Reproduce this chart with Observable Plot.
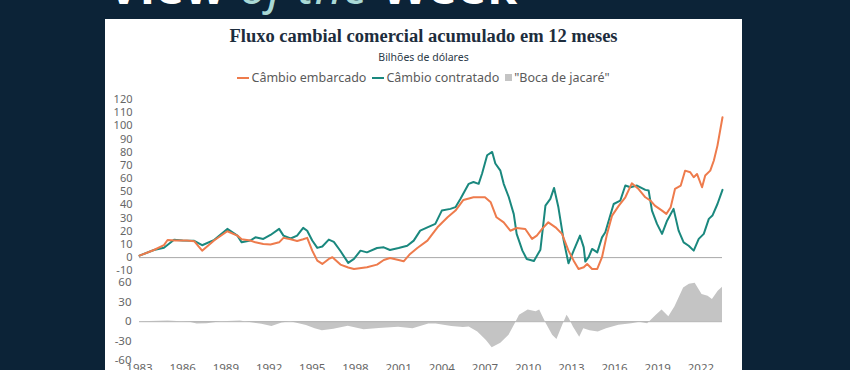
<!DOCTYPE html>
<html>
<head>
<meta charset="utf-8">
<script src="https://cdn.jsdelivr.net/npm/d3@7"></script>
<script src="https://cdn.jsdelivr.net/npm/@observablehq/plot@0.6"></script>
<style>
  html, body { margin: 0; padding: 0; }
  body { width: 850px; height: 370px; overflow: hidden; background: #0c2337; position: relative; font-family: "Noto Sans", sans-serif; }
  #banner { position: absolute; left: 108px; top: -47px; font-family: "Noto Sans", sans-serif; font-weight: 700; font-size: 48px; color: #ffffff; white-space: nowrap; letter-spacing: 1px; }
  #banner .of { color: #a9d9d6; font-style: italic; font-weight: 400; }
  #panel { position: absolute; left: 105px; top: 19px; width: 637px; height: 400px; background: #ffffff; }
  #title { position: absolute; left: 0; width: 637px; top: 7px; text-align: center; font-family: "Liberation Serif", serif; font-weight: 700; font-size: 18.5px; color: #1d2d3d; white-space: nowrap; }
  #subtitle { position: absolute; left: 0; width: 637px; top: 31px; text-align: center; font-size: 10.5px; color: #2b3a48; }
  #legend { position: absolute; left: 0; width: 637px; top: 50px; display: flex; justify-content: center; align-items: center; font-size: 12.5px; color: #5a5a5a; white-space: nowrap; }
  #legend .item { display: flex; align-items: center; margin: 0 3px; }
  #legend .ln { display: inline-block; width: 12px; height: 2px; margin-right: 2px; }
  #legend .sq { display: inline-block; width: 7px; height: 7px; margin-right: 2px; background: #c4c4c4; }
  #topChart { position: absolute; left: 0; top: 71px; }
  #bottomChart { position: absolute; left: 0; top: 256px; }
</style>
</head>
<body>
<div id="banner">View <span class="of">of the</span> Week</div>
<div id="panel">
  <div id="title">Fluxo cambial comercial acumulado em 12 meses</div>
  <div id="subtitle">Bilhões de dólares</div>
  <div id="legend"></div>
  <div id="topChart"></div>
  <div id="bottomChart"></div>
</div>
<script>
// ---- Data (billions of US$) ----
const seriesNames = ["Câmbio embarcado", "Câmbio contratado", "\"Boca de jacaré\""];
const seriesColors = ["#ee7b4c", "#1a887e", "#c4c4c4"];

const embYears = [1983.0,1984.0,1984.7,1984.95,1985.5,1986.3,1986.8,1987.35,1988.2,1989.1,1989.8,1990.1,1990.7,1991.05,1991.6,1992.1,1992.7,1993.0,1993.5,1993.95,1994.37,1994.65,1995.0,1995.35,1995.7,1996.15,1996.4,1996.96,1997.5,1997.9,1998.8,1999.5,1999.97,2000.4,2001.0,2001.35,2001.8,2002.3,2003.0,2003.7,2004.4,2004.95,2005.5,2006.2,2007.0,2007.4,2007.8,2008.3,2008.76,2009.2,2009.8,2010.27,2010.6,2010.97,2011.4,2011.9,2012.35,2012.8,2013.16,2013.5,2013.86,2014.1,2014.44,2014.8,2015.13,2015.48,2015.83,2016.3,2016.75,2017.2,2017.67,2018.14,2018.5,2018.8,2019.3,2019.6,2019.9,2020.2,2020.6,2020.9,2021.26,2021.5,2021.73,2022.08,2022.3,2022.65,2022.9,2023.15,2023.5];
const embValues = [1.5,5.8,9.5,13.4,13,13,12.5,5.3,13.2,20,16.7,13.9,13,11.6,10.4,10,11.6,15,13.9,12.6,13.9,15,5.3,-2.3,-4.8,-1,0.3,-5.3,-7.5,-8.6,-7.3,-5.3,-1.8,-0.3,-1.8,-2.8,2.8,7.3,12.9,23,30.6,35.7,43.8,45.8,45.8,42,30.6,26.8,20.4,22.5,21.7,14.2,16.7,21.8,26.8,23,18,5.3,-2.3,-8.6,-7.3,-4.8,-8.6,-8.6,0.3,18,31.9,39.5,45.8,56.4,52,45.8,43.3,39.5,35.7,33.2,38.2,52.1,54.7,66,64.8,61,63.5,53.4,62.3,66,73.7,85,106.5];

const conYears = [1983.0,1984.0,1984.7,1985.4,1986.0,1986.8,1987.35,1988.2,1989.1,1989.8,1990.1,1990.7,1991.05,1991.6,1992.1,1992.7,1993.0,1993.5,1993.95,1994.37,1994.65,1995.0,1995.35,1995.7,1996.15,1996.5,1996.96,1997.5,1997.9,1998.35,1998.8,1999.5,1999.97,2000.4,2001.0,2001.6,2002.05,2002.5,2003.0,2003.55,2004.0,2004.6,2004.95,2005.3,2005.87,2006.2,2006.56,2006.8,2007.15,2007.5,2007.72,2008.07,2008.3,2008.65,2009.0,2009.2,2009.6,2009.9,2010.4,2010.85,2011.2,2011.54,2011.8,2012.1,2012.47,2012.8,2013.16,2013.6,2013.86,2013.97,2014.2,2014.44,2014.8,2015.13,2015.36,2015.7,2015.94,2016.4,2016.75,2017.1,2017.56,2018.14,2018.37,2018.6,2018.95,2019.3,2019.65,2020.1,2020.45,2020.8,2021.15,2021.5,2021.85,2022.2,2022.55,2022.8,2023.15,2023.5];
const conValues = [1.5,5.8,7.5,13.5,13,12.8,9.4,13.5,21.8,16.7,11.6,13,15.4,14.2,17.2,21.8,16.7,14.5,16.7,22.6,20.4,13,7.4,8.4,13.7,12,5,-4,-1,5.3,4,7.3,7.8,5.8,7.3,9,12.9,20.5,23,25.6,35.7,37,38.3,44.6,56,57.4,56,63.8,77.7,80.2,71.4,66,56,46,33,18,5.3,-1,-2.5,6,39.5,44.6,52.9,38.2,12.9,-4.3,5.3,16.7,7.8,-3,0.3,6.6,4,15.4,19.2,31.9,40.7,43.3,54.7,53.4,54.7,51.4,50.9,35.7,25.6,18,28,37,20.5,11.6,9,5.3,14.2,18,29.4,31.9,40.7,51.4];

const gapYears = [1983.0,1985.0,1986.5,1987.0,1987.7,1988.7,1990.0,1990.9,1991.5,1992.2,1992.9,1993.5,1994.6,1995.2,1995.7,1996.5,1997.5,1998.6,1999.65,2001.0,2002.0,2003.1,2003.6,2004.7,2005.5,2005.9,2006.5,2007.1,2007.5,2008.1,2008.67,2009.1,2009.4,2010.0,2010.55,2010.8,2011.26,2011.7,2012.0,2012.4,2012.7,2012.85,2013.14,2013.58,2013.86,2014.3,2014.87,2015.44,2016.3,2017.2,2017.75,2018.3,2018.9,2019.3,2019.77,2020.2,2020.8,2021.2,2021.6,2022.08,2022.5,2022.8,2023.2,2023.5];
const gapValues = [0,1,-1,-3.5,-3,0,1,-2,-4,-7.5,-2,0,-6,-11,-14,-11.5,-7,-12.5,-10.5,-8.5,-11,-3.5,-3.5,-7.5,-9,-8,-16,-29,-40,-33,-21,-3,10,18,15.5,18,-3,-21,-27.5,-5.5,10,5,-8,-24,-11,-14,-16,-11,-5.5,-3,-1,-3,10,18,7.6,23,52,57.6,59,42,39,34,47,53];

const xTicks = [1983,1986,1989,1992,1995,1998,2001,2004,2007,2010,2013,2016,2019,2022];
const yTicksTop = [-10,0,10,20,30,40,50,60,70,80,90,100,110,120];
const yTicksBottom = [-60,-30,0,30,60];

// ---- Tables built from the arrays ----
const emb = embYears.map((t, i) => ({t, v: embValues[i]}));
const con = conYears.map((t, i) => ({t, v: conValues[i]}));
const gap = gapYears.map((t, i) => ({t, v: gapValues[i]}));

// ---- Legend ----
const legendEl = document.getElementById("legend");
seriesNames.forEach((name, i) => {
  const item = document.createElement("span");
  item.className = "item";
  const mk = document.createElement("span");
  if (i < 2) { mk.className = "ln"; mk.style.background = seriesColors[i]; }
  else { mk.className = "sq"; }
  item.appendChild(mk);
  item.appendChild(document.createTextNode(name));
  legendEl.appendChild(item);
});

const axisStyle = {fontFamily: "'Noto Sans', sans-serif", fontSize: "11px", color: "#666666", background: "transparent", overflow: "visible"};
const xDomain = [1983, 2023.5];

const topPlot = Plot.plot({
  width: 637, height: 190,
  marginLeft: 34, marginRight: 20, marginTop: 9, marginBottom: 9.7,
  style: axisStyle,
  x: {domain: xDomain, axis: null},
  y: {domain: [-10, 120], ticks: yTicksTop, tickSize: 0, tickPadding: 7, tickFormat: d => String(d), label: null},
  marks: [
    Plot.ruleY([0], {stroke: "#a8a8a8", strokeWidth: 1}),
    Plot.line(con, {x: "t", y: "v", stroke: seriesColors[1], strokeWidth: 2, curve: "linear"}),
    Plot.line(emb, {x: "t", y: "v", stroke: seriesColors[0], strokeWidth: 2, curve: "linear"})
  ]
});
document.getElementById("topChart").appendChild(topPlot);

const bottomPlot = Plot.plot({
  width: 637, height: 125,
  marginLeft: 34, marginRight: 20, marginTop: 7.2, marginBottom: 39.8,
  style: {...axisStyle, fontSize: "11.5px"},
  x: {domain: xDomain, ticks: xTicks, tickSize: 0, tickPadding: 3, tickFormat: d => String(d), label: null},
  y: {domain: [-60, 60], ticks: yTicksBottom, tickSize: 0, tickPadding: 8, tickFormat: d => String(d), label: null},
  marks: [
    Plot.areaY(gap, {x: "t", y: "v", fill: seriesColors[2]}),
    Plot.ruleY([0], {stroke: "#b0b0b0", strokeWidth: 1})
  ]
});
document.getElementById("bottomChart").appendChild(bottomPlot);
</script>
</body>
</html>
